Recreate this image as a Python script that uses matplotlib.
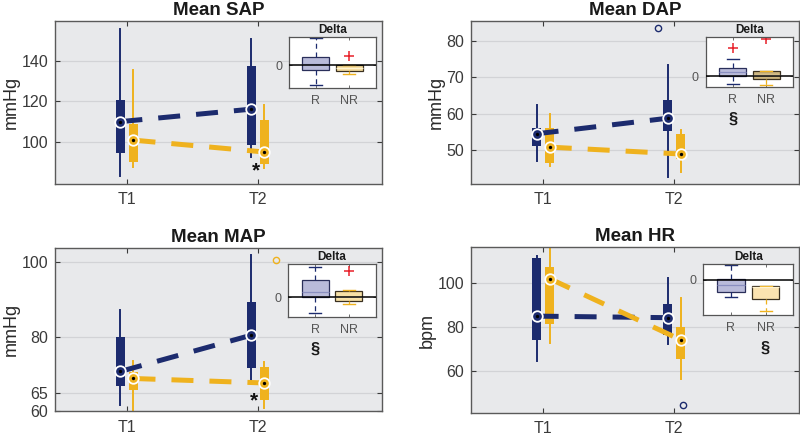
import matplotlib
matplotlib.use("Agg")
import matplotlib.pyplot as plt
import matplotlib.transforms as mtransforms

plt.rcParams['font.family'] = ['Liberation Sans', 'DejaVu Sans']

BLUE = '#1c2b6e'
YELLOW = '#efb21e'

# ---------------- data ----------------
timepoints = ['T1', 'T2']
panels = ['Mean SAP', 'Mean DAP', 'Mean MAP', 'Mean HR']
ylabels = ['mmHg', 'mmHg', 'mmHg', 'bpm']

# main boxes: [whislo, q1, med, q3, whishi] for T1, T2
sap_R = [[82.9, 94.2, 110.0, 120.9, 156.0], [92.2, 98.2, 116.2, 137.5, 151.0]]
sap_NR = [[87.5, 89.7, 100.8, 108.8, 135.8], [87.0, 88.7, 94.9, 110.8, 118.3]]
dap_R = [[47.0, 51.0, 54.4, 56.1, 62.3], [42.4, 55.2, 58.7, 63.8, 73.5]]
dap_NR = [[45.4, 46.3, 50.7, 56.1, 59.8], [43.8, 47.4, 48.8, 54.4, 55.5]]
map_R = [[61.7, 66.9, 70.7, 79.9, 87.3], [67.3, 71.6, 80.4, 89.3, 101.8]]
map_NR = [[58.0, 65.6, 68.8, 70.5, 73.4], [61.0, 63.0, 67.6, 71.9, 73.2]]
hr_R = [[64.5, 73.8, 84.8, 111.4, 112.3], [72.3, 76.1, 84.1, 90.5, 102.1]]
hr_NR = [[72.4, 81.2, 101.8, 107.0, 118.0], [56.4, 65.5, 74.0, 79.7, 93.0]]

# outliers (x position, value, group colour)
dap_out = ([1.873], [83.7], BLUE)
map_out = ([2.139], [100.6], YELLOW)
hr_out = ([2.064], [44.5], BLUE)

ylims = [(79, 160), (40.5, 85.6), (60, 103.8), (40.8, 116.2)]
yticks = [[100, 120, 140], [50, 60, 70, 80], [60, 65, 80, 100], [60, 80, 100]]

# inset delta boxes: [whislo, q1, med, q3, whishi], fliers
d_sap_R = [-20, -5, 1.5, 8, 27]; d_sap_R_f = []
d_sap_NR = [-8.5, -5.5, -3, 0.5, 0.5]; d_sap_NR_f = [9.5]
d_dap_R = [-8, 0.3, 4.6, 8.6, 17.3]; d_dap_R_f = [28.3]
d_dap_NR = [-8.4, -2.4, 1, 5, 5]; d_dap_NR_f = [37.6]
d_map_R = [-16.3, 0.3, 5.3, 16.7, 30]; d_map_R_f = []
d_map_NR = [-7.3, -4.3, 0.5, 6, 7]; d_map_NR_f = [25.7]
d_hr_R = [-16.7, -12, -5.3, 1, 14.7]; d_hr_R_f = []
d_hr_NR = [-31.3, -18.7, -7, -6.3, -5.7]; d_hr_NR_f = []
inset_ylims = [(-22.5, 28.5), (-11, 39.6), (-20, 32.7), (-34.7, 16.3)]
inset_labels = ['R', 'NR']

main_data = [(sap_R, sap_NR, None), (dap_R, dap_NR, dap_out),
             (map_R, map_NR, map_out), (hr_R, hr_NR, hr_out)]
inset_data = [(d_sap_R, d_sap_R_f, d_sap_NR, d_sap_NR_f),
              (d_dap_R, d_dap_R_f, d_dap_NR, d_dap_NR_f),
              (d_map_R, d_map_R_f, d_map_NR, d_map_NR_f),
              (d_hr_R, d_hr_R_f, d_hr_NR, d_hr_NR_f)]

stars = [(1.985, 85.4), None, (1.97, 62.9), None]
sections = [None, (1, -0.63), (1, -0.61), (2, -0.65)]
nr_colors = ['#f5dc9c', '#cdb681', '#f7e1a6', '#fbe3b0']

# ---------------- layout ----------------
W, H = 800, 436
def fr(x0, y0, x1, y1):
    return [x0 / W, 1 - y1 / H, (x1 - x0) / W, (y1 - y0) / H]

main_pos = [fr(55, 21, 382, 184), fr(471, 21, 799, 184),
            fr(55, 248, 382, 411.3), fr(471, 247, 799, 413)]
inset_pos = [fr(289, 37, 376, 88), fr(705.7, 36.7, 793.3, 87.3),
             fr(288.3, 264.3, 375.7, 317), fr(703.3, 263.7, 793.3, 314.7)]

fig = plt.figure(figsize=(8, 4.36), dpi=100)

def stat(v, fl=()):
    return dict(whislo=v[0], q1=v[1], med=v[2], q3=v[3], whishi=v[4], fliers=list(fl))

off = 0.05
for i in range(4):
    ax = fig.add_axes(main_pos[i])
    ax.set_facecolor('#e8e9eb')
    R, NR, outl = main_data[i]
    groups = [(R, BLUE, -off), (NR, YELLOW, off)]
    for grp, col, dx in groups:
        pos = [1 + dx, 2 + dx]
        ax.bxp([stat(v) for v in grp], positions=pos, widths=0.068,
               patch_artist=True, showcaps=False, showfliers=False,
               boxprops=dict(facecolor=col, edgecolor=col, linewidth=0),
               whiskerprops=dict(color=col, linewidth=1.4),
               medianprops=dict(linewidth=0), manage_ticks=False, zorder=2)
    for grp, col, dx in groups:
        pos = [1 + dx, 2 + dx]
        meds = [v[2] for v in grp]
        ax.plot(pos, meds, color=col, lw=3.6, linestyle=(0, (4.4, 3.2)),
                dash_capstyle='butt', zorder=3)
    for grp, col, dx in groups:
        pos = [1 + dx, 2 + dx]
        meds = [v[2] for v in grp]
        ax.plot(pos, meds, 'o', ms=7.6, mfc=col, mec='white', mew=1.3, zorder=4)
        ax.plot(pos, meds, 'o', ms=2.4, mfc='black', mec='black', mew=0, zorder=5)
    if outl is not None:
        ax.plot(outl[0], outl[1], 'o', ms=4.5, mfc='none', mec=outl[2], mew=1.0, zorder=4)
    ax.set_xlim(0.45, 2.95)
    ax.set_ylim(*ylims[i])
    ax.set_yticks(yticks[i])
    ax.set_xticks([1, 2])
    ax.set_xticklabels(timepoints)
    ax.yaxis.grid(True, color='#d2d3d6', lw=0.9)
    ax.set_axisbelow(True)
    ax.tick_params(direction='in', top=True, right=True, length=3.5, width=0.8,
                   labelsize=11.5, colors='#3a3a3a', pad=5)
    ax.tick_params(axis='x', pad=6)
    for s in ax.spines.values():
        s.set_color('#5a5a5a')
        s.set_linewidth(1.0)
    ax.set_title(panels[i], fontsize=13.5, fontweight='bold', pad=4, color='#1a1a1a')
    ax.set_ylabel(ylabels[i], fontsize=13, color='#2a2a2a', labelpad=1)
    if stars[i] is not None:
        ax.text(stars[i][0], stars[i][1], '*', fontsize=15, fontweight='bold',
                ha='center', va='center', color='#111111', zorder=6)

    # inset
    ia = fig.add_axes(inset_pos[i])
    ia.set_facecolor('white')
    dR, dRf, dNR, dNRf = inset_data[i]
    for k, (v, fl, face, ec, wc, mc) in enumerate([
            (dR, dRf, '#b9bbda', '#2a2f5a', BLUE, '#8a8fc0'),
            (dNR, dNRf, nr_colors[i], '#3a3020', YELLOW, '#fff3d0')]):
        ia.bxp([stat(v, fl)], positions=[k + 1], widths=0.8, patch_artist=True,
               showfliers=True, capwidths=[0.35],
               boxprops=dict(facecolor=face, edgecolor=ec, linewidth=0.9),
               whiskerprops=dict(color=wc, linewidth=0.9, linestyle=(0, (4, 3))),
               capprops=dict(color=wc, linewidth=1.0),
               medianprops=dict(color=mc, linewidth=0.9),
               flierprops=dict(marker='+', markeredgecolor='#e8202a', markersize=7,
                               markeredgewidth=1.1),
               manage_ticks=False, zorder=2)
    ia.axhline(0, color='black', lw=1.1, zorder=3)
    ia.set_xlim(0.2, 2.8)
    ia.set_ylim(*inset_ylims[i])
    ia.set_xticks([1, 2])
    ia.set_xticklabels(inset_labels)
    ia.set_yticks([0])
    ia.tick_params(direction='in', top=True, right=True, length=2, width=0.6,
                   labelsize=9, colors='#555555', pad=5)
    for s in ia.spines.values():
        s.set_color('#555555')
        s.set_linewidth(0.9)
    ia.set_title('Delta', fontsize=8.5, fontweight='bold', pad=3, color='#1a1a1a')
    if sections[i] is not None:
        tr = mtransforms.blended_transform_factory(ia.transData, ia.transAxes)
        ia.text(sections[i][0], sections[i][1], '§', transform=tr, fontsize=12,
                fontweight='bold', ha='center', va='center', color='#1a1a1a')

fig.savefig('out.png', dpi=100)
